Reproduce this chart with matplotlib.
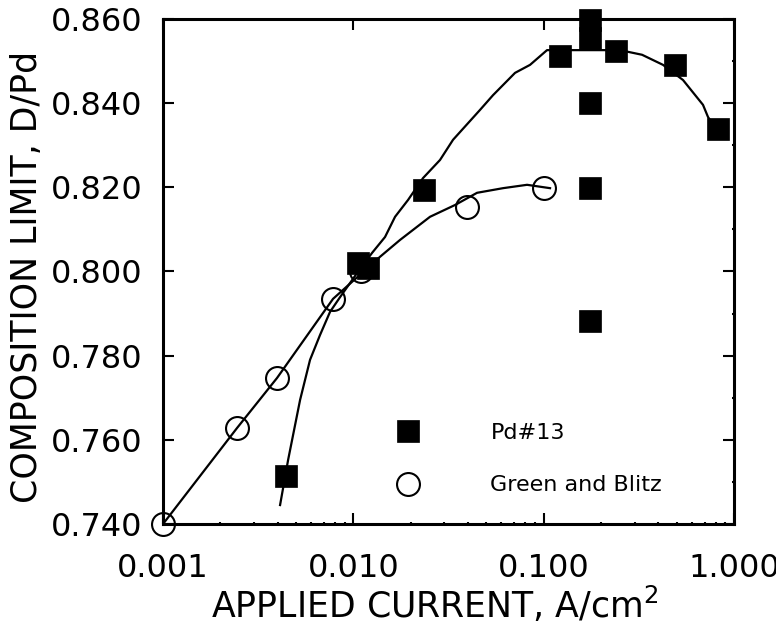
import numpy as np
import matplotlib
matplotlib.use('Agg')
import matplotlib.pyplot as plt
from matplotlib.ticker import LogLocator, MultipleLocator, FixedLocator, NullFormatter

# measured points, Pd#13
pd_current = [0.00443, 0.0106, 0.0120, 0.0235, 0.122, 0.175, 0.175, 0.175, 0.175, 0.175, 0.240, 0.49, 0.824]
pd_comp = [0.7514, 0.8021, 0.8008, 0.8193, 0.8511, 0.8597, 0.8554, 0.840, 0.8198, 0.7882, 0.8523, 0.8491, 0.8339]

# Green and Blitz
gb_current = [0.001, 0.00245, 0.00397, 0.00782, 0.0110, 0.0396, 0.1004]
gb_comp = [0.740, 0.7628, 0.7747, 0.7935, 0.8001, 0.8153, 0.8198]

# hand drawn trend lines
pd_fit_x = [0.00412, 0.00454, 0.00525, 0.00592, 0.00668, 0.00754, 0.00851, 0.01045, 0.01253, 0.01467,
            0.01656, 0.01938, 0.02323, 0.02853, 0.0334, 0.04629, 0.05417, 0.07071, 0.08477, 0.1041,
            0.1751, 0.2518, 0.3287, 0.4236, 0.5395, 0.6871, 0.7302, 0.8043]
pd_fit_y = [0.7445, 0.7552, 0.7695, 0.7790, 0.7849, 0.7904, 0.7939, 0.7996, 0.8044, 0.8082,
            0.8130, 0.8170, 0.8222, 0.8265, 0.8313, 0.8384, 0.8419, 0.8472, 0.8491, 0.8526,
            0.8526, 0.8526, 0.8515, 0.8491, 0.8455, 0.8396, 0.8367, 0.8339]

gb_fit_x = [0.001, 0.002447, 0.003972, 0.00782, 0.01381, 0.01759, 0.02528, 0.03421, 0.04466, 0.06115, 0.08177, 0.108]
gb_fit_y = [0.740, 0.7628, 0.7747, 0.7935, 0.8035, 0.8075, 0.8130, 0.8158, 0.8187, 0.8198, 0.8206, 0.8198]

x_ticks = [0.001, 0.01, 0.1, 1.0]
x_labels = ['0.001', '0.010', '0.100', '1.000']
y_ticks = [0.74, 0.76, 0.78, 0.80, 0.82, 0.84, 0.86]


def make_plot():
	fig = plt.figure(figsize=(7.76, 6.27), dpi=100)
	ax = fig.add_axes([0.2101, 0.1643, 0.7358, 0.8054])

	ax.plot(pd_fit_x, pd_fit_y, color='black', lw=1.6, zorder=2)
	ax.plot(gb_fit_x, gb_fit_y, color='black', lw=1.6, zorder=2)

	ax.plot(gb_current, gb_comp, linestyle='none', marker='o', markersize=16.5, markerfacecolor='none',
			markeredgecolor='black', markeredgewidth=1.5, clip_on=False, zorder=4, label='Green and Blitz')
	ax.plot(pd_current, pd_comp, linestyle='none', marker='s', markersize=16.5, color='black',
			markeredgewidth=0.5, clip_on=False, zorder=5, label='Pd#13')

	ax.set_xscale('log')
	ax.set_xlim(0.001, 1.0)
	ax.set_ylim(0.74, 0.86)

	ax.xaxis.set_major_locator(FixedLocator(x_ticks))
	ax.set_xticklabels(x_labels)
	ax.xaxis.set_minor_locator(LogLocator(base=10, subs=np.arange(2, 10)))
	ax.xaxis.set_minor_formatter(NullFormatter())
	ax.set_yticks(y_ticks)
	ax.set_yticklabels(['%.3f' % v for v in y_ticks])
	ax.yaxis.set_minor_locator(MultipleLocator(0.01))

	ax.tick_params(which='major', direction='in', length=8, width=1.5, top=True, right=True, labelsize=23)
	ax.tick_params(which='minor', direction='in', length=1.5, width=1.5, top=True, right=True)
	ax.tick_params(axis='x', which='major', pad=21)
	ax.tick_params(axis='y', which='major', pad=15)

	for s in ax.spines.values():
		s.set_linewidth(2.2)

	ax.set_xlabel(r'APPLIED CURRENT, A/cm$^{\mathregular{2}}$', fontsize=25)
	ax.set_ylabel('COMPOSITION LIMIT, D/Pd', fontsize=25)
	ax.xaxis.set_label_coords(0.476, -0.121)
	ax.yaxis.set_label_coords(-0.208, 0.489)

	handles, labels = ax.get_legend_handles_labels()
	ax.legend(handles[::-1], labels[::-1], loc='center left', bbox_to_anchor=(0.41, 0.128), frameon=False,
			  fontsize=16, numpoints=1, handlelength=1.0, handletextpad=3.2, labelspacing=1.45,
			  borderpad=0, borderaxespad=0)

	fig.savefig('out.png', dpi=100)


if __name__ == '__main__':
	make_plot()
